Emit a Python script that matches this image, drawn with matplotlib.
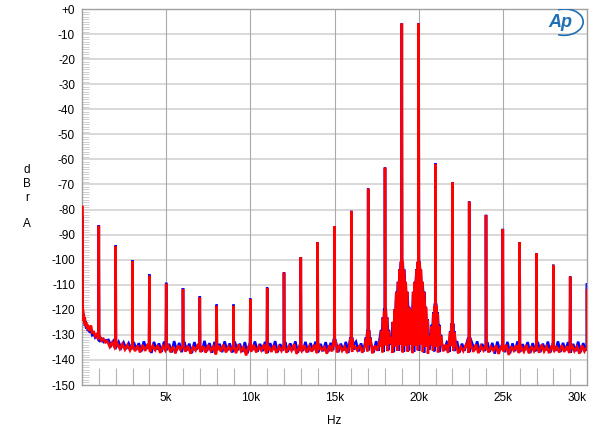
import numpy as np
import matplotlib
matplotlib.use("Agg")
import matplotlib.pyplot as plt
from matplotlib.patches import Arc

plt.rcParams['font.family'] = ['Liberation Sans', 'DejaVu Sans']

# ---------------- data ----------------
# discrete spectral lines (Hz) and their levels (dBrA)
line_freqs = [10, 1000, 2000, 3000, 4000, 5000, 6000, 7000, 8000, 9000, 10000,
              11000, 12000, 13000, 14000, 15000, 16000, 17000, 18000, 19000, 20000,
              21000, 22000, 23000, 24000, 25000, 26000, 27000, 28000, 29000, 30000]
red_peaks = [-78.5, -86.5, -94.7, -100.7, -106.4, -109.6, -111.8, -115.1, -118.4, -118.4, -115.8,
             -111.3, -105.2, -99.1, -93.1, -86.7, -80.6, -71.7, -63.3, -5.8, -5.8,
             -61.9, -69.2, -76.9, -82.2, -87.8, -93.1, -97.5, -102.1, -106.8, -111.7]
blue_peaks = [-82.5, -86.2, -94.3, -100.3, -105.9, -109.2, -111.3, -114.6, -117.9, -117.9, -115.5,
              -111.1, -105.0, -99.0, -93.0, -86.6, -80.5, -71.6, -63.2, -5.7, -5.7,
              -61.6, -69.1, -76.8, -82.1, -87.7, -93.0, -97.4, -102.0, -106.7, -109.4]

# low-frequency noise rise
low_freqs = [8, 15, 25, 40, 60, 85, 110, 140, 175, 210, 250, 300, 350, 410, 470, 540,
             610, 690, 780, 870, 960, 1060, 1170, 1280, 1390]
red_low = [-119, -121, -118.5, -123, -120, -124.5, -122, -125.5, -123.5, -126.5, -125, -127.5,
           -126, -128.5, -127, -126.3, -129.5, -128.5, -130.5, -129.8, -131.5, -130.8, -132.3,
           -131.6, -133.0]
blue_low = [-118, -122, -119.5, -121.5, -124, -121.5, -125, -123, -126.5, -124.5, -127.5,
            -125.8, -128.5, -127, -129.2, -128, -130, -129.3, -131, -130.2, -131.8, -132.4,
            -131.5, -132.8, -132.2]

# noise floor every 150 Hz (red from 1.5 kHz, blue from 1.575 kHz)
floor_step = 150
red_floor_start, blue_floor_start = 1500, 1575
red_floor = [
    -132.5, -134.8, -132.9, -135.2, -133.4, -135.6, -133.6, -135.9, -134.0, -136.2,
    -133.9, -136.5, -134.2, -137.0, -134.0, -136.4, -133.7, -136.8, -134.3, -136.1,
    -134.1, -137.2, -134.5, -136.3, -133.8, -136.9, -134.6, -137.4, -134.2, -136.0,
    -133.9, -136.7, -134.4, -137.5, -134.8, -136.2, -133.6, -136.9, -134.5, -137.1,
    -134.0, -136.4, -134.7, -137.8, -134.3, -136.6, -133.9, -137.0, -134.6, -136.3,
    -134.2, -137.3, -133.8, -136.5, -134.9, -138.2, -134.4, -136.7, -134.0, -137.0,
    -134.5, -136.2, -133.9, -137.4, -134.6, -136.8, -134.1, -137.2, -134.7, -136.4,
    -134.0, -137.1, -134.5, -136.3, -133.7, -137.6, -134.8, -136.5, -134.2, -137.0,
    -134.6, -136.7, -133.9, -137.3, -134.4, -136.1, -134.9, -137.5, -134.1, -136.6,
    -134.5, -137.0, -134.0, -136.4, -134.7, -137.3, -133.8, -136.8, -134.6, -136.2,
    -134.1, -137.1, -134.5, -136.6, -133.9, -137.4, -134.3, -136.3, -134.8, -137.0,
    -134.2, -136.5, -133.7, -137.2, -134.6, -136.4, -134.0, -137.0, -134.5, -136.7,
    -134.0, -137.3, -134.4, -136.2, -133.8, -136.9, -134.7, -137.5, -134.1, -136.4,
    -134.6, -137.0, -134.2, -136.6, -133.9, -137.2, -134.5, -136.3, -134.0, -137.4,
    -134.8, -136.5, -134.1, -137.1, -134.6, -136.8, -133.8, -137.3, -134.4, -136.2,
    -134.0, -137.0, -134.7, -136.4, -134.2, -137.6, -134.5, -136.6, -133.9, -138.0,
    -134.6, -136.3, -134.1, -137.2, -134.8, -136.7, -134.0, -137.4, -134.5, -136.5,
    -134.2, -137.1, -133.9, -136.6, -134.6, -137.3, -134.3, -136.4, -134.9, -137.0,
    -134.1, -136.8, -134.5, -137.2, -133.9, -136.5, -134.7, -137.5, -134.2, -136.6,
    -134.8]
blue_floor = [
    -132.0, -134.3, -132.5, -134.9, -132.8, -135.2, -133.1, -135.6, -133.4, -135.8,
    -132.9, -136.0, -133.3, -136.6, -132.6, -135.7, -133.5, -137.2, -132.8, -135.9,
    -133.4, -136.8, -132.7, -136.1, -133.6, -137.0, -132.5, -136.3, -133.2, -136.9,
    -132.8, -136.2, -133.5, -137.3, -132.9, -135.8, -133.7, -136.7, -132.4, -136.5,
    -133.3, -137.1, -132.8, -136.0, -133.6, -136.9, -132.6, -136.4, -133.4, -137.0,
    -132.7, -136.3, -133.5, -136.8, -132.9, -137.4, -133.2, -136.1, -132.6, -136.7,
    -133.6, -136.5, -132.8, -137.2, -133.3, -136.0, -132.5, -136.9, -133.7, -136.2,
    -132.9, -136.8, -133.4, -136.1, -132.6, -137.1, -133.5, -136.4, -132.8, -136.9,
    -133.3, -136.2, -132.7, -137.0, -133.6, -136.5, -132.9, -136.8, -133.2, -136.1,
    -132.6, -136.9, -133.5, -136.3, -132.8, -137.2, -133.3, -136.0, -132.7, -136.6,
    -133.4, -136.7, -132.9, -136.2, -133.6, -137.0, -132.5, -136.4, -133.2, -136.8,
    -132.8, -136.1, -133.5, -136.9, -132.7, -136.3, -133.4, -136.7, -132.9, -136.2,
    -133.3, -136.8, -132.6, -136.4, -133.5, -137.1, -132.8, -136.0, -133.6, -136.6,
    -132.7, -136.9, -133.4, -136.2, -132.9, -136.8, -133.2, -136.5, -132.5, -137.0,
    -133.5, -136.3, -132.8, -136.9, -133.3, -136.1, -132.6, -136.7, -133.6, -136.4,
    -132.9, -136.8, -133.2, -137.5, -132.7, -136.2, -133.5, -136.9, -132.8, -137.4,
    -133.4, -136.5, -132.6, -136.8, -133.7, -136.1, -132.9, -137.2, -133.3, -136.6,
    -132.8, -136.9, -133.5, -136.3, -132.7, -137.0, -133.4, -136.4, -132.6, -136.8,
    -133.2, -136.2, -132.9, -137.1, -133.6, -136.5, -132.7, -136.9, -133.3, -136.3,
    -133.0]

# sideband skirts around the tones
skirt_centers = [15000, 16000, 17000, 18000, 19000, 20000, 21000, 22000, 23000]
red_skirt_tops = [-132.5, -131.5, -128.5, -120.5, -101.0, -101.0, -118.5, -126.0, -131.5]
blue_skirt_tops = [-132.0, -131.0, -128.0, -120.0, -100.8, -100.8, -118.0, -125.5, -131.0]
skirt_offsets = [-600, -540, -480, -430, -380, -330, -280, -230, -180, -130, -90, -50,
                 50, 90, 130, 180, 230, 280, 330, 380, 430, 480, 540, 600]
skirt_drops = [30, 24, 27, 19, 21, 12, 15, 8, 10, 3, 5, 0,
               0, 4, 3, 9, 8, 14, 12, 19, 18, 24, 23, 30]

x_ticks = [5000, 10000, 15000, 20000, 25000, 30000]
x_ticklabels = ['5k', '10k', '15k', '20k', '25k', '30k']
y_ticks = list(range(0, -151, -10))
y_ticklabels = ['+0'] + [str(v) for v in y_ticks[1:]]


def build_trace(low_db, floor_start, floor_db, skirt_tops, peaks):
    ff = np.concatenate([low_freqs, floor_start + floor_step * np.arange(len(floor_db))])
    vv = np.concatenate([low_db, floor_db]).astype(float)
    sf, sv = [], []
    for c, t in zip(skirt_centers, skirt_tops):
        for o, d in zip(skirt_offsets, skirt_drops):
            f = c + o
            v = t - d
            if v > np.interp(f, ff, vv) + 0.5:
                sf.append(f)
                sv.append(v)
    base_f = np.concatenate([ff, sf])
    base_v = np.concatenate([vv, sv])
    order = np.argsort(base_f)
    base_f, base_v = base_f[order], base_v[order]
    pf, pv = [], []
    for f, p in zip(line_freqs, peaks):
        for df in (-18, 0, 18):
            pf.append(f + df)
            pv.append(p if df == 0 else np.interp(f + df, base_f, base_v))
    allf = np.concatenate([base_f, pf])
    allv = np.concatenate([base_v, pv])
    o = np.argsort(allf, kind='stable')
    return allf[o], allv[o]


bf, bv = build_trace(blue_low, blue_floor_start, blue_floor, blue_skirt_tops, blue_peaks)
rf, rv = build_trace(red_low, red_floor_start, red_floor, red_skirt_tops, red_peaks)

# ---------------- figure ----------------
fig = plt.figure(figsize=(6.0, 4.29), dpi=100)
ax = fig.add_axes([82 / 600, 1 - 385 / 429, 505 / 600, 376 / 429])

ax.set_xlim(0, 30000)
ax.set_ylim(-150, 0)

for y in y_ticks[1:-1]:
    ax.axhline(y, color='#d2d2d2', lw=1.2, zorder=0)
for x in x_ticks[:-1]:
    ax.axvline(x, color='#a9a9a9', lw=0.8, zorder=0)

ax.plot(bf, bv, color='#0000ff', lw=1.8, zorder=2, solid_joinstyle='miter')
ax.plot(rf, rv, color='#ff0000', lw=1.8, zorder=3, solid_joinstyle='miter')

ax.set_xticks(x_ticks)
ax.set_xticklabels(x_ticklabels, fontsize=8.5)
ax.get_xticklabels()[-1].set_ha('right')
ax.set_yticks(y_ticks)
ax.set_yticklabels(y_ticklabels, fontsize=8.5)
ax.set_xticks(np.arange(1000, 30000, 1000), minor=True)
ax.set_yticks(np.arange(-150, 0, 1), minor=True)
ax.tick_params(axis='both', which='major', length=0, pad=5)
ax.tick_params(axis='x', which='minor', direction='in', length=12, width=0.8, color='#b4b4b4')
ax.tick_params(axis='y', which='minor', direction='in', length=5, width=0.6, color='#c8c8c8')

for s in ax.spines.values():
    s.set_color('#a0a0a0')
    s.set_linewidth(1.0)

ax.set_xlabel('Hz', fontsize=8.5, labelpad=8)
for ch, yy in zip(['d', 'B', 'r', 'A'], [170, 184, 198, 224]):
    fig.text(27 / 600, 1 - yy / 429, ch, fontsize=8.5, ha='center', va='center')

# Ap logo
ax.text(0.948, 0.965, 'Ap', transform=ax.transAxes, fontsize=13, fontstyle='italic',
        fontweight='bold', color='#1f6fb5', ha='center', va='center', zorder=5)
ax.add_patch(Arc((0.955, 0.965), 0.075, 0.07, angle=10, theta1=-120, theta2=100,
                 transform=ax.transAxes, color='#1f6fb5', lw=1.2, zorder=5))

fig.savefig('out.png', dpi=100)
